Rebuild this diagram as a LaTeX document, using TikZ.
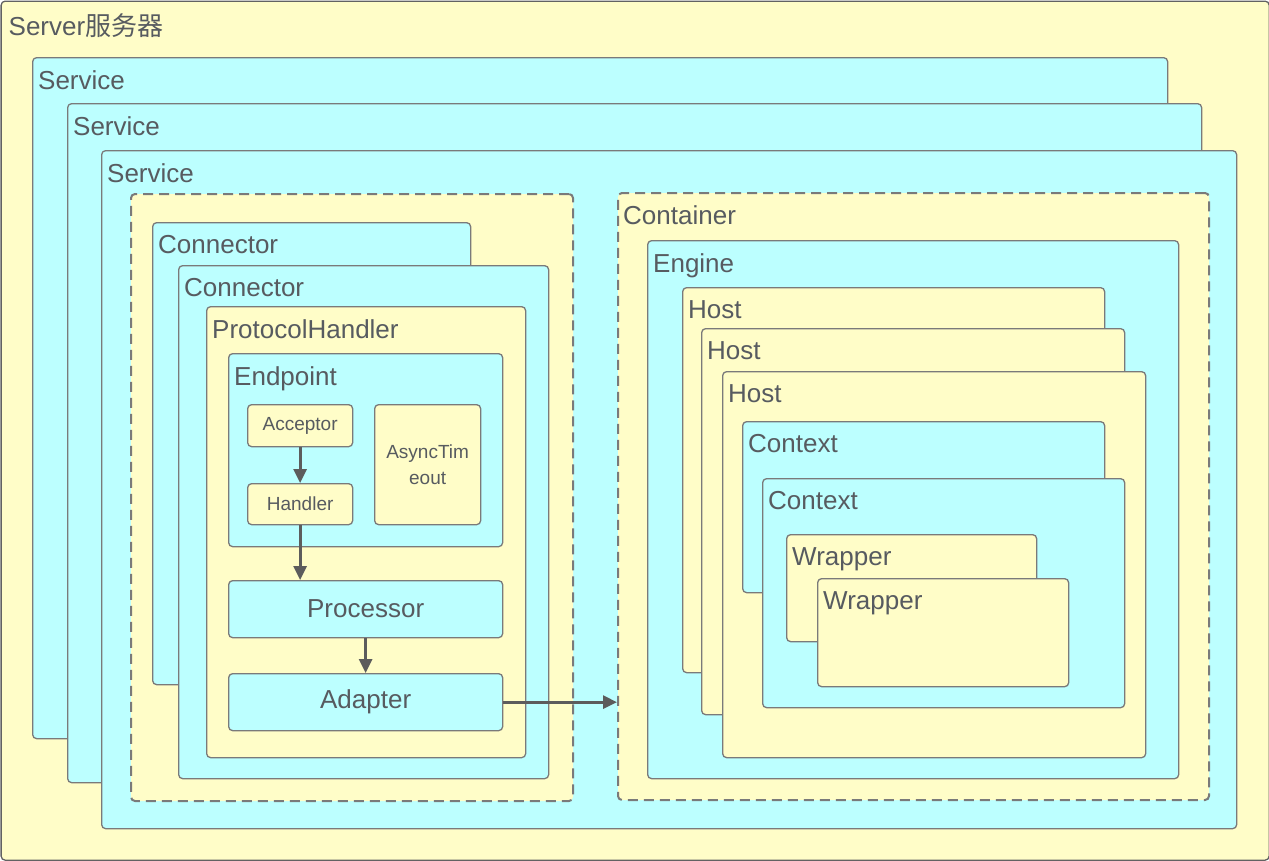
\documentclass[tikz,border=0pt]{standalone}
\usepackage{fontspec}
\setmainfont{Liberation Sans}
\newfontfamily\cjk{Noto Sans CJK SC}
\usetikzlibrary{positioning, arrows.meta}
\definecolor{ylw}{HTML}{FFFDC8}
\definecolor{cyn}{HTML}{BCFFFF}
\definecolor{edge}{HTML}{7A7A7A}
\definecolor{ink}{HTML}{575B60}
\definecolor{flowc}{HTML}{5C5C5C}

\begin{document}
\begin{tikzpicture}[x=1pt, y=-1pt, font=\fontsize{26}{30}\selectfont, text=ink,
  box/.style={draw=edge, line width=1.3pt, rounded corners=4pt, inner sep=0pt, anchor=north west},
  ybox/.style={box, fill=ylw},
  cbox/.style={box, fill=cyn},
  group/.style={ybox, line width=2pt, dash pattern=on 10pt off 6pt},
  tag/.style={anchor=north west, inner sep=0pt, xshift=6pt, yshift=-13pt, text=ink},
  small/.style={font=\fontsize{19}{26}\selectfont, align=center},
  flow/.style={draw=flowc, line width=2.8pt, -{Triangle[length=14pt, width=13pt]}}]
  \useasboundingbox (0,0) rectangle (1269,860);

  % Server and the stacked services.
  \node[ybox, draw=edge!80!black, minimum width=1268pt, minimum height=859pt,
        label={[tag, xshift=2pt]north west:Server{\cjk 服务器}}] (server) at (0.5,0.5) {};
  \node[cbox, minimum width=1135pt, minimum height=681pt, label={[tag]north west:Service}] (svc1) at (32,57) {};
  \node[cbox, minimum width=1134pt, minimum height=679pt, label={[tag]north west:Service}] (svc2) at (67,103) {};
  \node[cbox, minimum width=1135pt, minimum height=678pt, label={[tag]north west:Service}] (svc3) at (101,150) {};

  % Connector side.
  \node[group, minimum width=442pt, minimum height=607pt] (conns) at (130,193) {};
  \node[cbox, minimum width=318pt, minimum height=462pt, label={[tag]north west:Connector}] (conn1) at (152,222) {};
  \node[cbox, minimum width=370pt, minimum height=513pt, label={[tag]north west:Connector}] (conn2) at (178,265) {};
  \node[ybox, minimum width=319pt, minimum height=451pt, label={[tag]north west:ProtocolHandler}] (proto) at (206,306) {};
  \node[cbox, minimum width=274pt, minimum height=193pt, label={[tag]north west:Endpoint}] (endpt) at (228,353) {};
  \node[ybox, small, minimum width=105pt, minimum height=42pt] (acceptor) at (247,404) {Acceptor};
  \node[ybox, small, minimum width=105pt, minimum height=41pt] (handler) at (247,483) {Handler};
  \node[ybox, small, minimum width=106pt, minimum height=120pt] (async) at (374,404) {AsyncTim\\eout};
  \node[cbox, minimum width=274pt, minimum height=57pt] (processor) at (228,580) {Processor};
  \node[cbox, minimum width=274pt, minimum height=57pt] (adapter) at (228,673) {Adapter};

  % Container side.
  \node[group, minimum width=591pt, minimum height=607pt, label={[tag]north west:Container}] (container) at (617,192) {};
  \node[cbox, minimum width=531pt, minimum height=538pt, label={[tag]north west:Engine}] (engine) at (647,240) {};
  \node[ybox, minimum width=422pt, minimum height=385pt, label={[tag]north west:Host}] (host1) at (682,287) {};
  \node[ybox, minimum width=423pt, minimum height=386pt, label={[tag]north west:Host}] (host2) at (701,328) {};
  \node[ybox, minimum width=423pt, minimum height=386pt, label={[tag]north west:Host}] (host3) at (722,371) {};
  \node[cbox, minimum width=362pt, minimum height=171pt, label={[tag]north west:Context}] (ctx1) at (742,421) {};
  \node[cbox, minimum width=362pt, minimum height=229pt, label={[tag]north west:Context}] (ctx2) at (762,478) {};
  \node[ybox, minimum width=250pt, minimum height=107pt, label={[tag]north west:Wrapper}] (wrap1) at (786,534) {};
  \node[ybox, minimum width=251pt, minimum height=108pt, label={[tag]north west:Wrapper}] (wrap2) at (817,578) {};

  % Request flow.
  \draw[flow] (acceptor) -- (handler);
  \draw[flow] (handler.south) -- (handler.south |- processor.north);
  \draw[flow] (processor) -- (adapter);
  \draw[flow] (adapter.east) -- (adapter.east -| container.west);
\end{tikzpicture}
\end{document}
